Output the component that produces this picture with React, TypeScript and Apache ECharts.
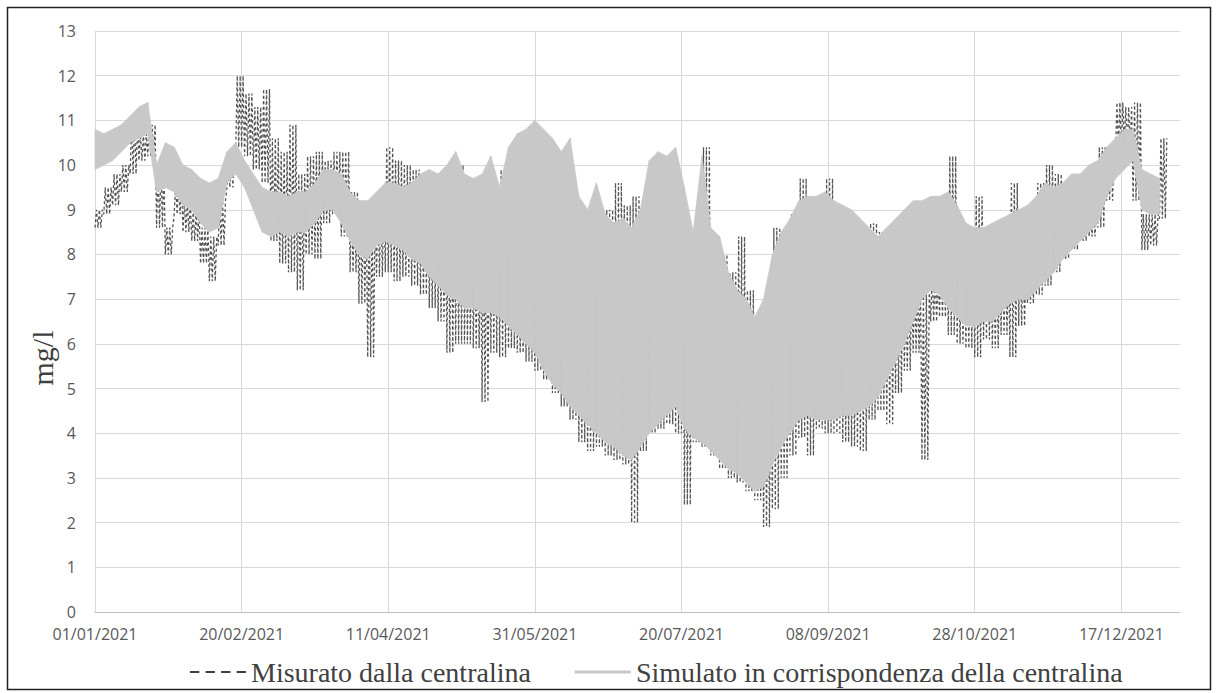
import React, { useEffect, useRef } from "react";
import * as echarts from "echarts";

// ---------- DATA ----------
// Envelopes sampled every 3 days starting 01/01/2021 (day 0)
const SAMPLE_STEP_DAYS = 3;
const X_MAX_DAY = 370;

const xTickDays = [0, 50, 100, 150, 200, 250, 300, 350];
const xTickLabels = [
  "01/01/2021",
  "20/02/2021",
  "11/04/2021",
  "31/05/2021",
  "20/07/2021",
  "08/09/2021",
  "28/10/2021",
  "17/12/2021",
];

const MEAS_NAME = "Misurato dalla centralina";
const SIM_NAME = "Simulato in corrispondenza della centralina";

// Simulated (envelope: low / high), mg/l
const simLow = [
  9.9, 10.0, 10.1, 10.3, 10.5, 10.6, 10.7, 9.4, 9.5, 9.4,
  9.1, 9.0, 8.7, 8.5, 8.6, 9.6, 9.8, 9.5, 9.0, 8.5,
  8.4, 8.5, 8.4, 8.5, 8.5, 8.7, 9.0, 9.0, 8.7, 8.3,
  8.0, 7.9, 8.2, 8.3, 8.2, 8.1, 7.9, 7.8, 7.5, 7.3,
  7.1, 7.0, 6.8, 6.8, 6.7, 6.7, 6.6, 6.4, 6.2, 6.0,
  5.8, 5.4, 5.1, 4.9, 4.6, 4.4, 4.2, 4.0, 3.8, 3.7,
  3.5, 3.4, 3.7, 4.0, 4.2, 4.4, 4.6, 4.1, 3.9, 3.8,
  3.6, 3.4, 3.2, 3.1, 2.9, 2.7, 2.8, 3.3, 3.7, 4.0,
  4.3, 4.4, 4.3, 4.3, 4.3, 4.4, 4.4, 4.5, 4.6, 4.8,
  5.2, 5.6, 6.0, 6.5, 7.0, 7.2, 7.1, 6.8, 6.6, 6.4,
  6.4, 6.5, 6.5, 6.7, 6.9, 7.0, 7.0, 7.2, 7.4, 7.6,
  7.9, 8.1, 8.3, 8.5, 8.7, 9.3, 9.7, 9.9, 10.1, 9.0,
  8.9, 8.9,
];
const simHigh = [
  10.8, 10.7, 10.8, 10.9, 11.1, 11.3, 11.4, 10.0, 10.5, 10.4,
  10.0, 9.9, 9.7, 9.6, 9.7, 10.3, 10.5, 10.1, 9.8, 9.5,
  9.4, 9.4, 9.3, 9.4, 9.4, 9.6, 9.9, 9.9, 9.8, 9.4,
  9.2, 9.2, 9.4, 9.6, 9.6, 9.5, 9.6, 9.8, 9.9, 9.8,
  10.0, 10.3, 9.8, 9.7, 9.8, 10.2, 9.5, 10.4, 10.7, 10.8,
  11.0, 10.8, 10.6, 10.3, 10.6, 9.3, 9.0, 9.6, 8.9, 8.7,
  8.8, 8.6, 9.0, 10.1, 10.3, 10.2, 10.4, 9.5, 8.5, 10.2,
  8.6, 8.4, 7.6, 7.2, 7.0, 6.6, 7.0, 8.0, 8.5, 8.8,
  9.2, 9.3, 9.3, 9.4, 9.2, 9.1, 9.0, 8.8, 8.6, 8.4,
  8.6, 8.8, 9.0, 9.2, 9.2, 9.3, 9.3, 9.4, 9.1, 8.7,
  8.6, 8.6, 8.7, 8.8, 8.9, 9.0, 9.1, 9.3, 9.6, 9.5,
  9.6, 9.8, 9.8, 10.0, 10.1, 10.4, 10.6, 10.8, 10.8, 9.9,
  9.8, 9.7,
];

// Measured (envelope: low / high), mg/l
const measLow = [
  8.6, 8.9, 9.1, 9.4, 9.8, 10.1, 10.2, 8.6, 8.0, 8.9,
  8.5, 8.3, 7.8, 7.4, 8.2, 9.5, 10.4, 10.2, 9.9, 9.6,
  8.3, 7.8, 7.6, 7.2, 8.0, 7.9, 8.7, 8.9, 8.4, 7.6,
  6.9, 5.7, 7.5, 7.6, 7.4, 7.5, 7.3, 7.1, 6.8, 6.5,
  5.8, 6.0, 6.0, 5.9, 4.7, 5.8, 5.7, 5.9, 5.8, 5.6,
  5.4, 5.2, 4.9, 4.6, 4.3, 3.8, 3.6, 3.7, 3.5, 3.4,
  3.3, 2.0, 3.6, 4.0, 4.1, 4.2, 4.0, 2.4, 3.8, 3.7,
  3.5, 3.2, 3.0, 2.9, 2.7, 2.5, 1.9, 2.3, 3.0, 3.5,
  3.9, 3.5, 4.1, 4.0, 4.0, 3.8, 3.7, 3.6, 4.3, 4.5,
  4.2, 4.9, 5.4, 5.8, 3.4, 6.5, 6.6, 6.2, 6.0, 5.9,
  5.7, 6.1, 5.9, 6.2, 5.7, 6.4, 6.9, 7.1, 7.3, 7.6,
  7.9, 8.1, 8.3, 8.4, 8.6, 9.2, 10.3, 10.4, 9.2, 8.1,
  8.2, 8.8,
];
const measHigh = [
  9.0, 9.5, 9.8, 10.0, 11.0, 10.7, 10.9, 10.0, 8.6, 9.6,
  9.2, 9.0, 8.6, 8.4, 9.2, 10.2, 12.0, 11.6, 11.3, 11.7,
  10.6, 10.3, 10.9, 9.8, 10.2, 10.3, 10.1, 10.3, 10.3, 9.4,
  9.2, 9.0, 9.4, 10.4, 10.1, 10.0, 9.9, 9.8, 9.6, 9.4,
  9.3, 10.0, 9.2, 8.5, 8.8, 9.6, 9.9, 8.6, 8.0, 9.2,
  8.0, 7.5, 7.8, 7.4, 7.6, 7.2, 8.7, 8.2, 9.0, 9.6,
  9.1, 9.3, 8.8, 8.0, 8.5, 8.7, 9.0, 8.0, 7.8, 10.4,
  8.4, 8.0, 7.6, 8.4, 7.2, 6.5, 6.0, 8.6, 7.0, 8.9,
  9.7, 9.2, 8.0, 9.7, 8.4, 8.0, 7.8, 8.5, 8.7, 8.5,
  8.6, 8.0, 7.5, 7.4, 7.2, 7.6, 8.2, 10.2, 8.2, 8.6,
  9.3, 8.4, 8.0, 8.3, 9.6, 8.3, 8.6, 9.6, 10.0, 9.8,
  9.3, 9.2, 9.5, 9.0, 10.4, 10.4, 11.4, 11.3, 11.4, 8.9,
  8.9, 10.6,
];

// ---------- derived tables ----------
const sampleDays = simLow.map((_, i) => i * SAMPLE_STEP_DAYS);

// measured: each day of a sample swings between the sample's low and high (daily cycle)
const measPoints: number[][] = [];
sampleDays.forEach((d, i) => {
  for (let k = 0; k < SAMPLE_STEP_DAYS; k++) {
    measPoints.push([d + k, measLow[i]]);
    measPoints.push([d + k + 0.5, measHigh[i]]);
  }
});

// simulated band segments: [d0, low0, high0, d1, low1, high1]
const simSegments: number[][] = [];
for (let i = 0; i < sampleDays.length - 1; i++) {
  simSegments.push([
    sampleDays[i], simLow[i], simHigh[i],
    sampleDays[i + 1], simLow[i + 1], simHigh[i + 1],
  ]);
}

export default function App() {
  const ref = useRef<HTMLDivElement>(null);

  useEffect(() => {
    document.body.style.margin = "0";
    const chart = echarts.init(ref.current!, null, { renderer: "svg" });

    const option: any = {
      animation: false,
      backgroundColor: "#ffffff",
      textStyle: { fontFamily: "Open Sans" },
      grid: { left: 95, right: 40, top: 31, bottom: 81, containLabel: false },
      xAxis: {
        type: "value",
        min: 0,
        max: X_MAX_DAY,
        interval: 50,
        axisLine: { show: true, lineStyle: { color: "#bfbfbf", width: 1 } },
        axisTick: { show: false },
        splitLine: { show: false },
        axisLabel: {
          color: "#595959",
          fontSize: 16,
          margin: 14,
          showMaxLabel: false,
          formatter: (v: number) => {
            const k = xTickDays.indexOf(v);
            return k >= 0 ? xTickLabels[k] : "";
          },
        },
      },
      yAxis: {
        type: "value",
        min: 0,
        max: 13,
        interval: 1,
        axisLine: { show: false },
        axisTick: { show: false },
        splitLine: { lineStyle: { color: "#d9d9d9", width: 1 } },
        axisLabel: { color: "#595959", fontSize: 16, margin: 19 },
      },
      legend: {
        left: 185,
        top: 653,
        itemWidth: 56,
        itemHeight: 14,
        itemGap: 44,
        selectedMode: false,
        textStyle: { fontFamily: "'Liberation Serif', serif", fontSize: 28, color: "#404040" },
        data: [
          {
            name: MEAS_NAME,
            icon: "path://M0 0H9V2H0Z M15 0H24V2H15Z M30 0H39V2H30Z M45 0H54V2H45Z",
            itemStyle: { color: "#404040", borderWidth: 0 },
          },
          {
            name: SIM_NAME,
            icon: "path://M0 0H56V3H0Z",
            itemStyle: { color: "#c8c8c8", borderWidth: 0 },
          },
        ],
      },
      graphic: [
        {
          type: "text",
          x: 42,
          y: 358,
          rotation: Math.PI / 2,
          silent: true,
          style: {
            text: "mg/l",
            fill: "#404040",
            font: "30px 'Liberation Serif', serif",
            textAlign: "center",
            textVerticalAlign: "middle",
          },
        },
        {
          type: "rect",
          silent: true,
          z: 100,
          shape: { x: 7.5, y: 7.5, width: 1203, height: 682 },
          style: { fill: "none", stroke: "#222222", lineWidth: 1.5 },
        },
      ],
      series: [
        {
          type: "line",
          name: "_vgrid",
          data: [],
          silent: true,
          z: 1,
          markLine: {
            silent: true,
            z: 1,
            animation: false,
            symbol: ["none", "none"],
            label: { show: false },
            emphasis: { disabled: true },
            lineStyle: { color: "#d9d9d9", width: 1, type: "solid" },
            data: xTickDays.map((d) => ({ xAxis: d })),
          },
        },
        {
          type: "line",
          name: MEAS_NAME,
          data: measPoints,
          symbol: "none",
          showSymbol: false,
          silent: true,
          z: 2,
          lineStyle: { color: "#555555", width: 1.3, type: [3, 2.5] },
        },
        {
          type: "custom",
          name: SIM_NAME,
          data: simSegments,
          silent: true,
          z: 3,
          itemStyle: { color: "#c8c8c8" },
          encode: { x: [0, 3], y: [1, 2, 4, 5] },
          renderItem: (_params: any, api: any) => {
            const p1 = api.coord([api.value(0), api.value(1)]);
            const p2 = api.coord([api.value(0), api.value(2)]);
            const p3 = api.coord([api.value(3), api.value(5)]);
            const p4 = api.coord([api.value(3), api.value(4)]);
            return {
              type: "polygon",
              shape: { points: [p1, p2, p3, p4] },
              style: { fill: "#c8c8c8", stroke: "#c8c8c8", lineWidth: 0.8 },
            };
          },
        },
      ],
    };

    chart.setOption(option);
    return () => chart.dispose();
  }, []);

  return <div ref={ref} style={{ width: 1220, height: 693 }} />;
}
